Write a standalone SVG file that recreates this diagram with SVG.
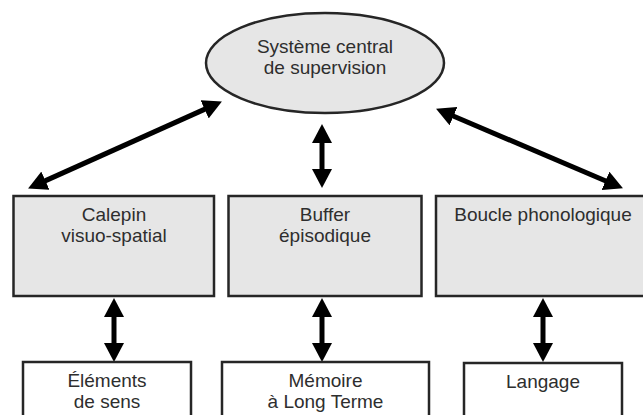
<svg xmlns="http://www.w3.org/2000/svg" width="643" height="415" viewBox="0 0 643 415">
<style>
  .gray { fill: #e6e6e6; stroke: #262626; stroke-width: 2.5; }
  .white { fill: #ffffff; stroke: #262626; stroke-width: 2.5; }
  text { font-family: "Liberation Sans", Arial, sans-serif; font-size: 19px; fill: #2e2e2e; text-anchor: middle; }
  .conn { stroke: #000; stroke-width: 5; fill: none; marker-start: url(#head); marker-end: url(#head); }
</style>
<defs>
  <marker id="head" markerUnits="userSpaceOnUse" viewBox="0 0 19 20" refX="1" refY="10" markerWidth="19" markerHeight="20" orient="auto-start-reverse">
    <path d="M0,0 L19,10 L0,20 z" fill="#000"/>
  </marker>
</defs>
<rect width="643" height="415" fill="#ffffff"/>

<g id="connectors">
  <line class="conn" x1="44.5" y1="181.1" x2="205.5" y2="108.9"/>
  <line class="conn" x1="322" y1="142" x2="322" y2="170"/>
  <line class="conn" x1="452.6" y1="115.7" x2="606.4" y2="181.3"/>
  <line class="conn" x1="114" y1="316" x2="114" y2="344"/>
  <line class="conn" x1="322" y1="316" x2="322" y2="344"/>
  <line class="conn" x1="543" y1="316" x2="543" y2="344"/>
</g>

<g id="central">
  <ellipse class="gray" cx="325" cy="63" rx="119" ry="50"/>
  <text x="325" y="53">Système central</text>
  <text x="325" y="74">de supervision</text>
</g>

<g id="calepin">
  <rect class="gray" x="13.5" y="196" width="200.5" height="100"/>
  <text x="114" y="221">Calepin</text>
  <text x="114" y="242">visuo-spatial</text>
</g>

<g id="buffer">
  <rect class="gray" x="228.5" y="196" width="193" height="100"/>
  <text x="325" y="221">Buffer</text>
  <text x="325" y="242">épisodique</text>
</g>

<g id="boucle">
  <rect class="gray" x="436" y="196" width="214" height="100"/>
  <text x="543" y="221">Boucle phonologique</text>
</g>

<g id="elements">
  <rect class="white" x="23" y="362" width="168" height="70"/>
  <text x="107" y="387">Éléments</text>
  <text x="107" y="408">de sens</text>
</g>

<g id="memoire">
  <rect class="white" x="222" y="362" width="207" height="70"/>
  <text x="325.5" y="387">Mémoire</text>
  <text x="325.5" y="408">à Long Terme</text>
</g>

<g id="langage">
  <rect class="white" x="464" y="363" width="158" height="70"/>
  <text x="543" y="388">Langage</text>
</g>
</svg>
